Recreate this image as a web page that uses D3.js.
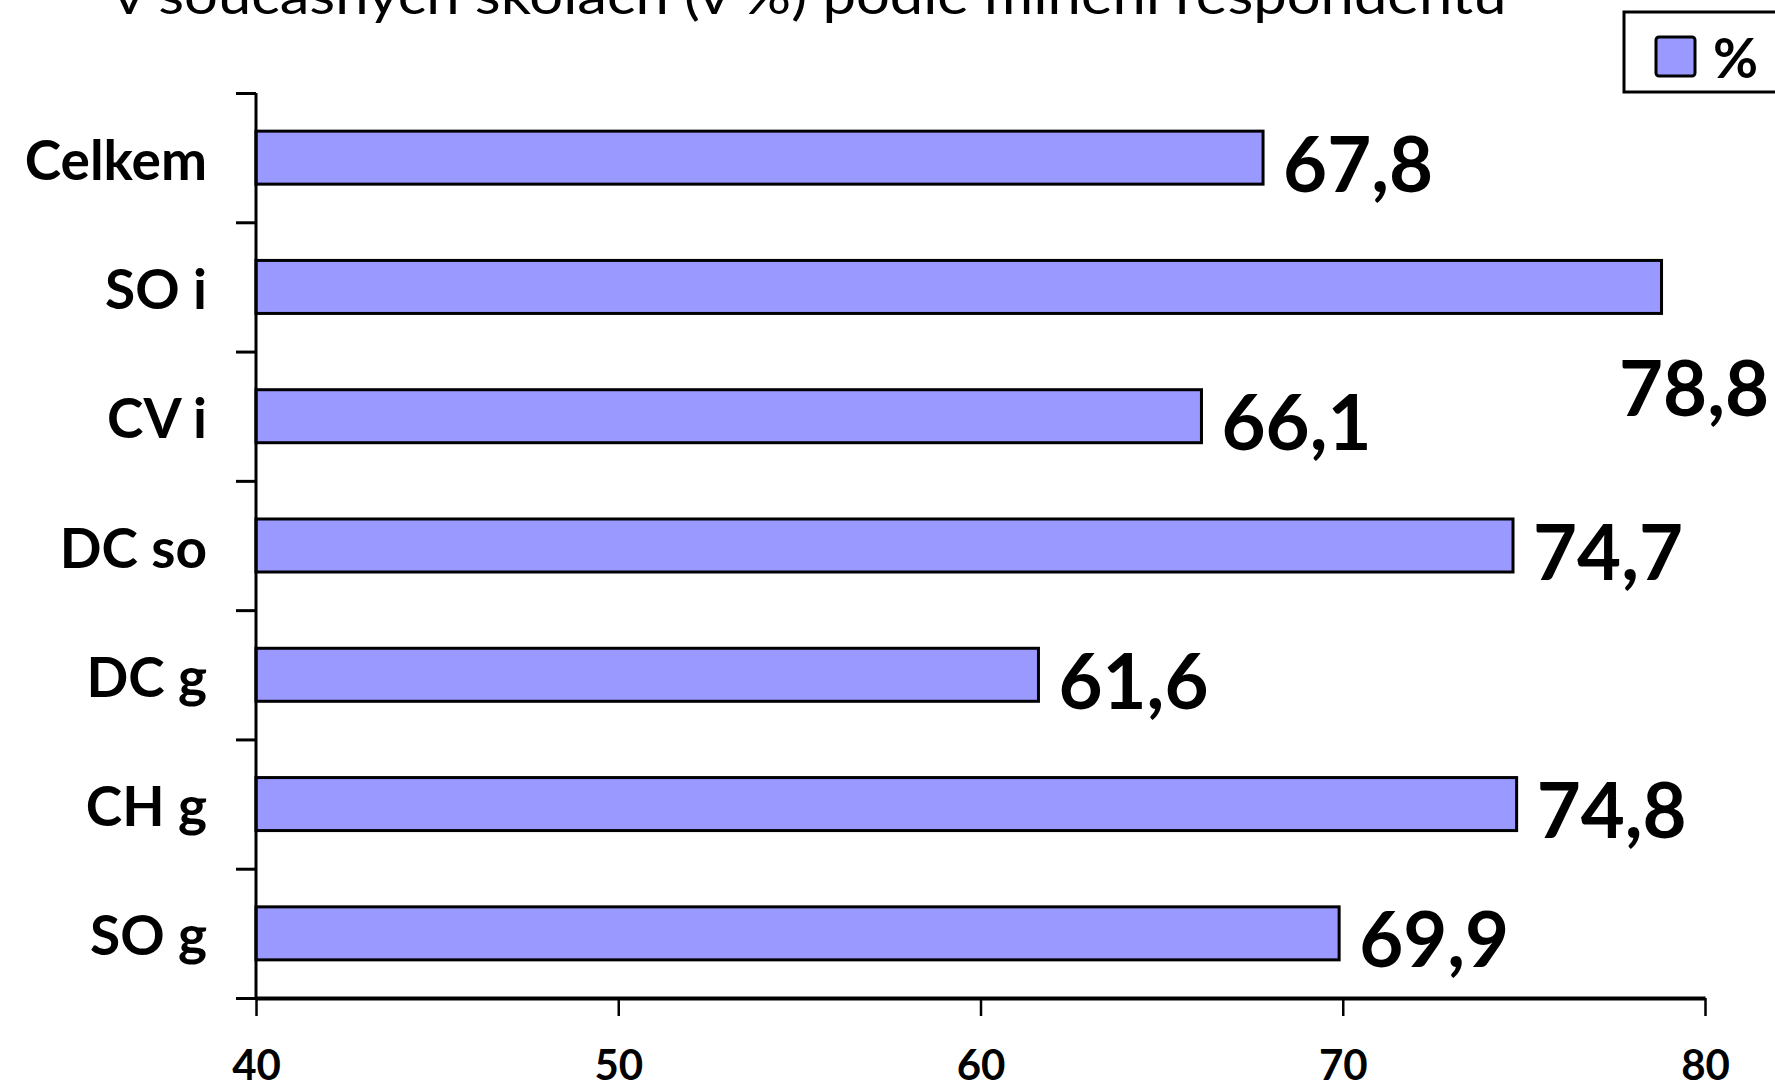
<!DOCTYPE html>
<html><head><meta charset="utf-8">
<script src="https://cdn.jsdelivr.net/npm/d3@7"></script>
<style>
html,body{margin:0;padding:0;background:#fff;overflow:hidden}
svg{display:block}
text{font-family:Lato,"Open Sans",sans-serif}
</style></head>
<body>
<svg id="c" width="1775" height="1085"></svg>
<script>
const categories = ["Celkem","SO i","CV i","DC so","DC g","CH g","SO g"];
const values = [67.8,78.8,66.1,74.7,61.6,74.8,69.9];
const tickValues = [40,50,60,70,80];
const titleText = "v současných školách (v %) podle mínění respondentů";
const legendLabel = "%";

(function(){
const W = 1775, H = 1085;
const svg = d3.select("#c");
const mL = 256, mR = 1705, mT = 93, mB = 998;
const barColor = "#9999FF";

const x = d3.scaleLinear().domain([40,80]).range([mL,mR]);
const y = d3.scaleBand().domain(categories).range([mT,mB]).paddingInner(0.59).paddingOuter(0.295);
const fmt = v => d3.format(".1f")(v).replace(".", ",");

// title (clipped at top as in reference)
svg.append("text").attr("x",810).attr("y",14).attr("text-anchor","middle")
  .attr("font-size",53).attr("textLength",1393).attr("lengthAdjust","spacingAndGlyphs")
  .attr("fill","#000").text(titleText);

// bars
svg.append("g").selectAll("rect").data(values).join("rect")
  .attr("x", x(40))
  .attr("y",(d,i)=>y(categories[i]))
  .attr("width", d=>x(d)-x(40))
  .attr("height", y.bandwidth())
  .attr("fill", barColor).attr("stroke","#000").attr("stroke-width",3);

// value labels
svg.append("g").selectAll("text").data(values).join("text")
  .attr("font-size",76).attr("font-weight",700).attr("fill","#000")
  .each(function(d,i){
    const t = d3.select(this).text(fmt(d));
    const cy = y(categories[i]) + y.bandwidth()/2;
    const w = this.getComputedTextLength();
    let lx = x(d)+20;
    if (lx + w > W) {
      t.attr("x", W-6).attr("text-anchor","end").attr("y", cy + y.step());
    } else {
      t.attr("x", lx).attr("y", cy + 34);
    }
  });

// y axis: boundary ticks
const yb = d3.scaleLinear().domain([0,categories.length]).range([mT,mB]);
const gy = svg.append("g").attr("transform",`translate(${mL},0)`)
  .call(d3.axisLeft(yb).ticks(categories.length).tickSize(20).tickFormat(""));
gy.select(".domain").attr("stroke","#000").attr("stroke-width",3).attr("d",`M0,${mT}V${mB}`);
gy.selectAll(".tick line").attr("stroke","#000").attr("stroke-width",3);

// category labels
svg.append("g").selectAll("text").data(categories).join("text")
  .attr("x",207).attr("y",d=>y(d)+y.bandwidth()/2+22)
  .attr("text-anchor","end").attr("font-size",55).attr("font-weight",700).attr("fill","#000")
  .text(d=>d);

// x axis
const gx = svg.append("g").attr("transform",`translate(0,${mB})`)
  .call(d3.axisBottom(x).tickValues(tickValues).tickSize(18).tickSizeOuter(0));
gx.select(".domain").attr("stroke","#000").attr("stroke-width",4);
gx.selectAll(".tick line").attr("stroke","#000").attr("stroke-width",2.5);
gx.selectAll(".tick text").attr("y",82).attr("dy",0).attr("font-size",42).attr("font-weight",700)
  .attr("fill","#000").attr("font-family","Lato, sans-serif");

// legend
const lg = svg.append("g");
lg.append("rect").attr("x",1624).attr("y",12).attr("width",220).attr("height",80)
  .attr("fill","#fff").attr("stroke","#000").attr("stroke-width",3);
lg.append("rect").attr("x",1656).attr("y",37).attr("width",39).attr("height",39).attr("rx",3)
  .attr("fill",barColor).attr("stroke","#000").attr("stroke-width",3);
lg.append("text").attr("x",1713).attr("y",78).attr("font-size",55).attr("font-weight",700)
  .attr("fill","#000").text(legendLabel);
})();
</script>
</body></html>
